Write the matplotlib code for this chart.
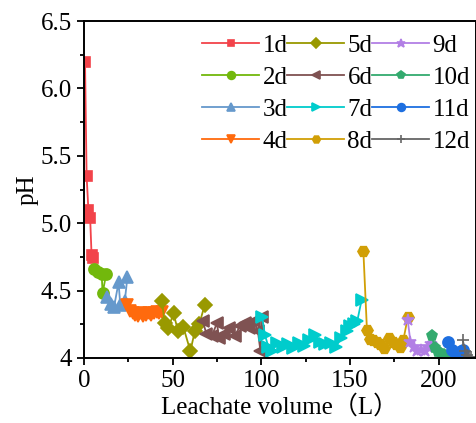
import matplotlib.pyplot as plt
from matplotlib.ticker import MultipleLocator

plt.rcParams['font.family'] = ['Liberation Serif', 'Noto Sans CJK SC']
plt.rcParams['mathtext.fontset'] = 'stix'

# leachate volume (L) and pH for each day
x1 = [0.6, 1.5, 2.5, 3.5, 4.3, 5.0]
y1 = [6.20, 5.35, 5.10, 5.04, 4.76, 4.74]
x2 = [5.5, 8.0, 10.0, 10.5, 12.5]
y2 = [4.66, 4.64, 4.62, 4.48, 4.62]
x3 = [13.0, 15.0, 17.0, 19.5, 20.5, 23.0, 24.5]
y3 = [4.45, 4.40, 4.38, 4.56, 4.39, 4.42, 4.60]
x4 = [24.5, 26, 27.5, 29, 30.5, 32, 33.5, 35, 36.5, 38, 39.5, 41, 42.5, 44]
y4 = [4.39, 4.35, 4.33, 4.32, 4.31, 4.33, 4.31, 4.32, 4.33, 4.32, 4.33, 4.34, 4.33, 4.34]
x5 = [44, 45.5, 47.5, 50.5, 53, 56, 60, 62.5, 65, 68]
y5 = [4.42, 4.26, 4.22, 4.33, 4.20, 4.23, 4.05, 4.20, 4.25, 4.39]
x6 = [67, 69, 72, 75, 76, 79, 82, 85, 88, 91, 93, 96, 98, 99.5, 100.5]
y6 = [4.27, 4.18, 4.16, 4.26, 4.15, 4.18, 4.22, 4.16, 4.24, 4.26, 4.22, 4.27, 4.20, 4.05, 4.30]
x7 = [100.5, 102, 104, 106, 109, 112, 115, 118, 121, 124, 127, 130, 133, 136, 139,
      142, 145, 148, 150, 152, 154, 156.5]
y7 = [4.30, 4.17, 4.08, 4.05, 4.11, 4.08, 4.10, 4.07, 4.11, 4.09, 4.13, 4.17, 4.12,
      4.10, 4.11, 4.08, 4.15, 4.20, 4.24, 4.25, 4.27, 4.43]
x8 = [157.5, 159.5, 161, 163, 165, 167, 169, 172, 174, 176, 178, 180, 182.5]
y8 = [4.79, 4.21, 4.14, 4.13, 4.12, 4.10, 4.07, 4.15, 4.12, 4.10, 4.08, 4.13, 4.30]
x9 = [182.5, 184, 186, 188, 190, 192, 194, 195.5]
y9 = [4.28, 4.12, 4.08, 4.05, 4.06, 4.05, 4.08, 4.10]
x10 = [196, 198, 199.5, 201, 203, 205]
y10 = [4.16, 4.07, 4.04, 4.03, 4.02, 4.01]
x11 = [205, 207.5, 209.5, 211, 212.5, 213.5]
y11 = [4.12, 4.06, 4.03, 4.03, 4.05, 4.06]
x12 = [213.5, 215, 216, 217, 218]
y12 = [4.13, 4.05, 4.02, 4.01, 4.01]

labels = ['1d', '2d', '3d', '4d', '5d', '6d', '7d', '8d', '9d', '10d', '11d', '12d']
xs = [x1, x2, x3, x4, x5, x6, x7, x8, x9, x10, x11, x12]
ys = [y1, y2, y3, y4, y5, y6, y7, y8, y9, y10, y11, y12]
colors = ['#F2434A', '#72B80C', '#6699CC', '#FF6A0D', '#999900', '#7F5252',
          '#00CCCC', '#D19F06', '#B27FE5', '#33AA6E', '#1E6FE0', '#666666']
markers = ['s', 'o', '^', 'v', 'D', '<', '>', 'H', '*', 'p', 'o', '+']
sizes = [7, 8, 8, 8, 7.5, 9, 9, 8, 9, 8, 8, 9]

fig = plt.figure(figsize=(4.77, 4.23), dpi=100)
ax = fig.add_axes([0.176, 0.154, 0.822, 0.796])

for x, y, lab, c, m, s in zip(xs, ys, labels, colors, markers, sizes):
    ax.plot(x, y, color=c, marker=m, markersize=s, lw=1.3, label=lab,
            markeredgecolor=c, markeredgewidth=1.2)

ax.set_xlim(0, 221)
ax.set_ylim(4, 6.5)
ax.xaxis.set_major_locator(MultipleLocator(50))
ax.xaxis.set_minor_locator(MultipleLocator(25))
ax.yaxis.set_major_locator(MultipleLocator(0.5))
ax.yaxis.set_minor_locator(MultipleLocator(0.25))
ax.set_yticks([4, 4.5, 5, 5.5, 6, 6.5])
ax.set_yticklabels(['4', '4.5', '5.0', '5.5', '6.0', '6.5'])
ax.tick_params(which='major', length=5, width=1.3, labelsize=18)
ax.tick_params(which='minor', length=3, width=1.3)
for sp in ax.spines.values():
    sp.set_linewidth(1.4)

ax.set_xlabel('Leachate volume（L）', fontsize=18, labelpad=2)
ax.set_ylabel('pH', fontsize=18, labelpad=2)

leg = ax.legend(ncol=3, loc='upper right', bbox_to_anchor=(1.01, 0.99), frameon=False,
                fontsize=18, handlelength=2.25, handletextpad=0.15, columnspacing=0.0,
                labelspacing=0.38, markerscale=0.7, borderaxespad=0.0)

fig.savefig('out.png', dpi=100)
